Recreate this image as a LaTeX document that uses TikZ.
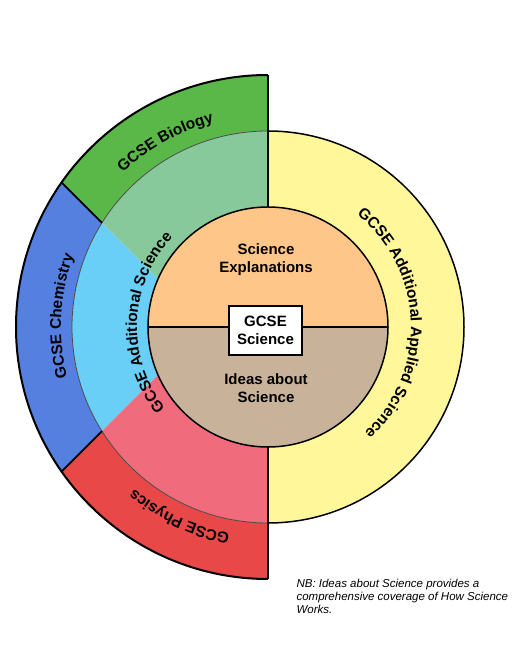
\documentclass[tikz,border=0pt]{standalone}
\usepackage{fontspec}
\setmainfont{Liberation Sans}
\usetikzlibrary{decorations.text}

\definecolor{biogreen}{RGB}{90,184,72}
\definecolor{chemblue}{RGB}{85,128,224}
\definecolor{physred}{RGB}{232,72,72}
\definecolor{addgreen}{RGB}{136,201,156}
\definecolor{addblue}{RGB}{106,207,246}
\definecolor{addpink}{RGB}{240,107,123}
\definecolor{appyellow}{RGB}{255,247,154}
\definecolor{explpeach}{RGB}{255,198,138}
\definecolor{ideastan}{RGB}{200,179,154}

% ring radii
\def\Ro{252}
\def\Rm{196}
\def\Ri{120}

\begin{document}
\begin{tikzpicture}[x=1pt,y=1pt,
  ringtext/.style={decorate, decoration={text along path, text align=center,
    text={|\bfseries\fontsize{15.5}{18}\selectfont|#1}}},
  core/.style={align=center, font=\bfseries\fontsize{15}{18}\selectfont},
  gcsebox/.style={rectangle, draw, line width=1.8pt, fill=white, minimum width=73pt, minimum height=49pt, inner sep=2pt, align=center, font=\bfseries\fontsize{15}{18}\selectfont},
  divider/.style={draw=black, line width=1.8pt}
]
\useasboundingbox (-268,-328) rectangle (252,327);

% outer ring
\fill[biogreen] (90:\Ro) arc[start angle=90, end angle=145, radius=\Ro] -- (147.9:\Rm) arc[start angle=147.9, end angle=90, radius=\Rm] -- cycle;
\fill[chemblue] (145:\Ro) arc[start angle=145, end angle=215, radius=\Ro] -- (212.1:\Rm) arc[start angle=212.1, end angle=147.9, radius=\Rm] -- cycle;
\fill[physred] (215:\Ro) arc[start angle=215, end angle=270, radius=\Ro] -- (270:\Rm) arc[start angle=270, end angle=212.1, radius=\Rm] -- cycle;

% middle ring
\fill[addgreen] (90:\Rm) arc[start angle=90, end angle=147.9, radius=\Rm] -- (156.4:\Ri) arc[start angle=156.4, end angle=90, radius=\Ri] -- cycle;
\fill[addblue] (147.9:\Rm) arc[start angle=147.9, end angle=212.1, radius=\Rm] -- (203.6:\Ri) arc[start angle=203.6, end angle=156.4, radius=\Ri] -- cycle;
\fill[addpink] (212.1:\Rm) arc[start angle=212.1, end angle=270, radius=\Rm] -- (270:\Ri) arc[start angle=270, end angle=203.6, radius=\Ri] -- cycle;
\filldraw[fill=appyellow, draw=black, line width=1.5pt] (90:\Rm) arc[start angle=90, end angle=-90, radius=\Rm] -- cycle;
\draw[black!70, line width=0.8pt] (90:\Rm) arc[start angle=90, end angle=270, radius=\Rm];

% borders
\draw[divider] (145:\Ro) -- (147.9:\Rm);
\draw[divider] (215:\Ro) -- (212.1:\Rm);
\draw[black, line width=2pt] (90:\Ro) arc[start angle=90, end angle=270, radius=\Ro];
\draw[black, line width=2.6pt] (90:\Ro) -- (270:\Ro);

% core
\fill[explpeach] (0:\Ri) arc[start angle=0, end angle=180, radius=\Ri] -- cycle;
\fill[ideastan] (180:\Ri) arc[start angle=180, end angle=360, radius=\Ri] -- cycle;
\draw[black, line width=1.5pt] (0,0) circle[radius=\Ri];
\draw[black, line width=1.5pt] (180:\Ri) -- (0:\Ri);

\node[core] (expl) at (-2,67) {Science\\Explanations};
\node[core] (ideas) at (-2,-61) {Ideas about\\Science};
\node[gcsebox] (gcse) at (-2.5,-3.5) {GCSE\\Science};

% ring labels
\path[ringtext={GCSE Biology}] (150:212) arc[start angle=150, end angle=88, radius=212];
\path[ringtext={GCSE Chemistry}] (215:207) arc[start angle=215, end angle=139, radius=207];
\path[ringtext={GCSE Physics}] (275:210) arc[start angle=275, end angle=215, radius=210];
\path[ringtext={GCSE Additional Science}] (230:131) arc[start angle=230, end angle=125, radius=131];
\path[ringtext={GCSE Additional Applied Science}] (60:143) arc[start angle=60, end angle=-56, radius=143];

% note
\node[anchor=north west, align=left, font=\itshape\fontsize{11.5}{13}\selectfont] (note) at (25,-249)
{NB: Ideas about Science provides a\\comprehensive coverage of How Science\\Works.};

\end{tikzpicture}
\end{document}
